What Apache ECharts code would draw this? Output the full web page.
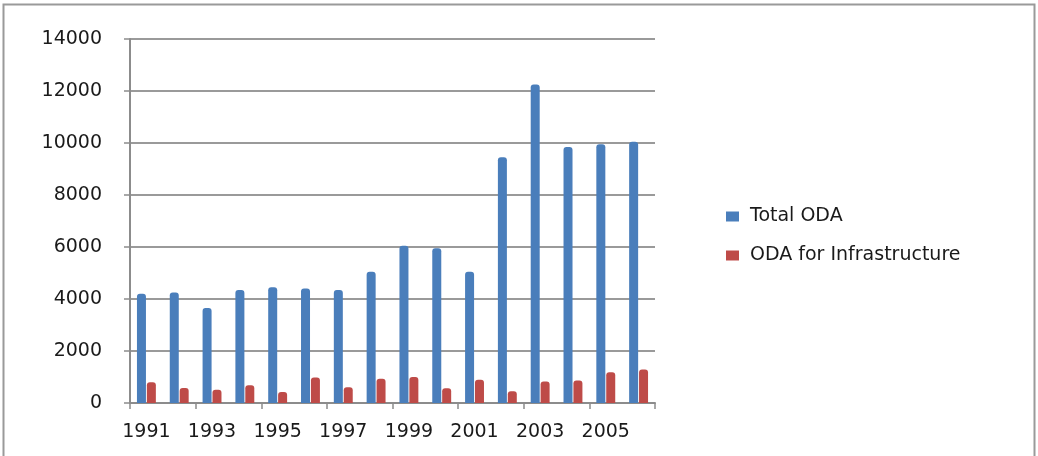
<!DOCTYPE html>
<html>
<head>
<meta charset="utf-8">
<script src="https://cdn.jsdelivr.net/npm/echarts@6/dist/echarts.min.js"></script>
<style>
  html, body { margin: 0; padding: 0; background: #fff; }
  #chart { width: 1038px; height: 456px; }
</style>
</head>
<body>
<div id="chart"></div>
<script>
var years = ['1991', '1992', '1993', '1994', '1995', '1996', '1997', '1998',
  '1999', '2000', '2001', '2002', '2003', '2004', '2005', '2006']
var totalOda = [4200, 4250, 3650, 4350, 4450, 4400, 4350, 5050,
  6050, 5950, 5050, 9450, 12250, 9850, 9950, 10050]
var infraOda = [800, 580, 510, 680, 420, 980, 610, 930,
  1000, 570, 890, 450, 830, 870, 1180, 1290]

var chart = echarts.init(document.getElementById('chart'))
var labelFont = 'DejaVu Sans, Verdana, sans-serif'

var option = {
  animation: false,
  graphic: [
    { // outer frame
      type: 'rect',
      shape: { x: 3.5, y: 4.5, width: 1031, height: 460 },
      style: { fill: 'none', stroke: '#9a9a9a', lineWidth: 2 }
    }
  ],
  legend: {
    orient: 'vertical',
    left: 721,
    top: 202,
    itemWidth: 13,
    itemHeight: 10,
    itemGap: 20,
    icon: 'rect',
    textStyle: {
      fontFamily: labelFont,
      fontSize: 19,
      color: '#1a1a1a',
      padding: [0, 0, 0, 6]
    },
    data: ['Total ODA', 'ODA for Infrastructure']
  },
  grid: {
    left: 130,
    right: 383,
    top: 39,
    bottom: 53
  },
  xAxis: {
    type: 'category',
    data: years,
    axisLine: { lineStyle: { color: '#8c8c8c', width: 2 } },
    axisTick: { show: true, length: 6, lineStyle: { color: '#8c8c8c', width: 1.5 } },
    axisLabel: {
      interval: 1,
      margin: 20,
      fontFamily: labelFont,
      fontSize: 19,
      color: '#1a1a1a'
    }
  },
  yAxis: {
    type: 'value',
    min: 0,
    max: 14000,
    interval: 2000,
    axisLine: { show: true, lineStyle: { color: '#8c8c8c', width: 2 } },
    axisTick: { show: true, length: 6, lineStyle: { color: '#8c8c8c', width: 1.5 } },
    splitLine: { lineStyle: { color: '#9a9a9a', width: 2 } },
    axisLabel: {
      margin: 28,
      fontFamily: labelFont,
      fontSize: 19,
      color: '#1a1a1a',
      formatter: function (v) { return String(v) }
    }
  },
  series: [
    {
      name: 'Total ODA',
      type: 'bar',
      data: totalOda,
      barWidth: 9,
      barGap: '10%',
      itemStyle: { color: '#4a7ebb', borderRadius: [3, 3, 0, 0] }
    },
    {
      name: 'ODA for Infrastructure',
      type: 'bar',
      data: infraOda,
      barWidth: 9,
      itemStyle: { color: '#be4b48', borderRadius: [3, 3, 0, 0] }
    }
  ]
}

chart.setOption(option)
</script>
</body>
</html>
